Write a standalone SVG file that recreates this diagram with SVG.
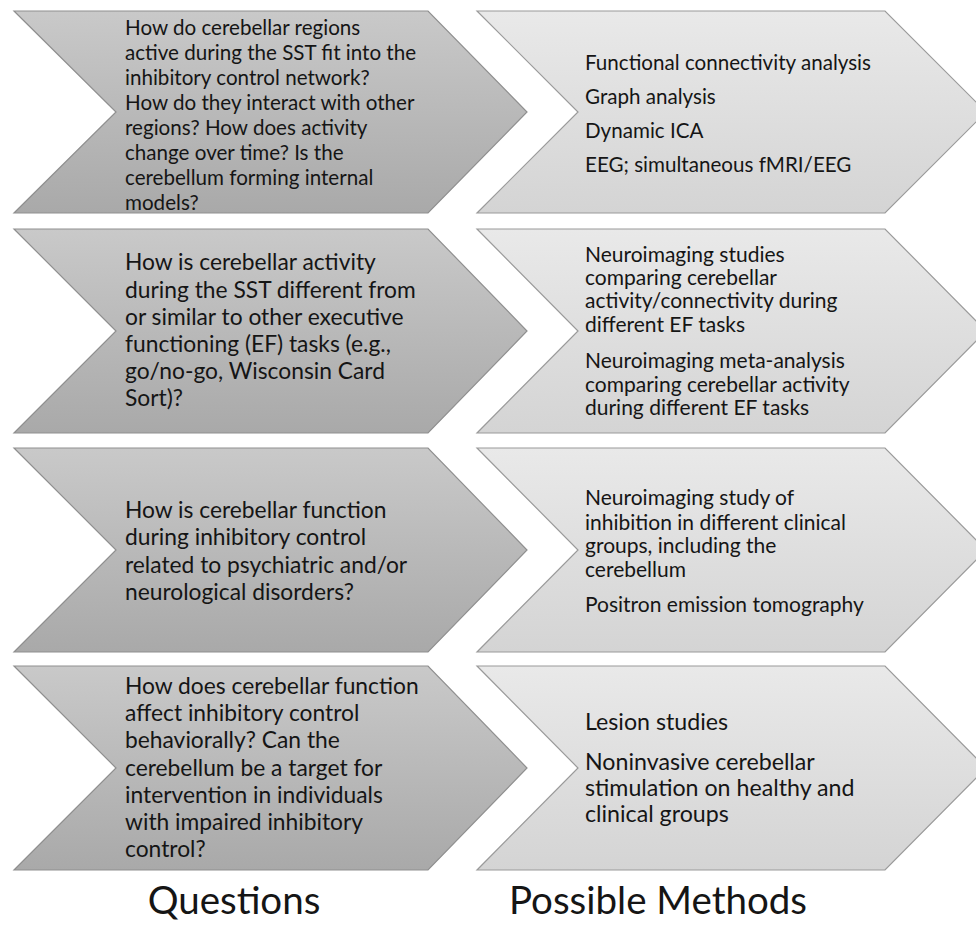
<svg xmlns="http://www.w3.org/2000/svg" width="976" height="942" viewBox="0 0 976 942">
<defs>
<linearGradient id="gDark" x1="0" y1="0" x2="0" y2="1">
<stop offset="0" stop-color="#c9c9c9"/>
<stop offset="1" stop-color="#a9a9a9"/>
</linearGradient>
<linearGradient id="gLight" x1="0" y1="0" x2="0" y2="1">
<stop offset="0" stop-color="#e9e9e9"/>
<stop offset="1" stop-color="#d4d4d4"/>
</linearGradient>
<style>
.q{fill:url(#gDark);stroke:#8f8f8f;stroke-width:1.2}
.m{fill:url(#gLight);stroke:#9a9a9a;stroke-width:1.2}
text{font-family:Lato,"Open Sans",sans-serif;fill:#151515}
.t1{font-size:20.6px}
.t2{font-size:22.8px}
.t3{font-size:21px}
.t4{font-size:23.2px}
.lab{font-size:38.5px;font-family:Lato,"Open Sans",sans-serif;fill:#151515;text-anchor:middle}
</style>
</defs>
<rect width="976" height="942" fill="#ffffff"/>
<g id="q1">
<path class="q" d="M14,11 L428,11 L527,112 L428,213 L14,213 L116,112 Z"/>
<text class="t1"><tspan x="125" y="35">How do cerebellar regions</tspan><tspan x="125" y="60">active during the SST fit into the</tspan><tspan x="125" y="85">inhibitory control network?</tspan><tspan x="125" y="110">How do they interact with other</tspan><tspan x="125" y="135">regions? How does activity</tspan><tspan x="125" y="160">change over time? Is the</tspan><tspan x="125" y="185">cerebellum forming internal</tspan><tspan x="125" y="210">models?</tspan></text>
</g>
<g id="m1">
<path class="m" d="M477,11 L885,11 L986,112 L885,213 L477,213 L578,112 Z"/>
<text class="t1"><tspan x="585" y="70">Functional connectivity analysis</tspan><tspan x="585" y="104">Graph analysis</tspan><tspan x="585" y="138">Dynamic ICA</tspan><tspan x="585" y="172">EEG; simultaneous fMRI/EEG</tspan></text>
</g>
<g id="q2">
<path class="q" d="M14,229 L428,229 L527,331 L428,433 L14,433 L116,331 Z"/>
<text class="t2"><tspan x="125" y="270">How is cerebellar activity</tspan><tspan x="125" y="297.5">during the SST different from</tspan><tspan x="125" y="325">or similar to other executive</tspan><tspan x="125" y="352">functioning (EF) tasks (e.g.,</tspan><tspan x="125" y="379">go/no-go, Wisconsin Card</tspan><tspan x="125" y="406">Sort)?</tspan></text>
</g>
<g id="m2">
<path class="m" d="M477,229 L885,229 L986,331 L885,433 L477,433 L578,331 Z"/>
<text class="t3"><tspan x="585" y="262">Neuroimaging studies</tspan><tspan x="585" y="285">comparing cerebellar</tspan><tspan x="585" y="308">activity/connectivity during</tspan><tspan x="585" y="332">different EF tasks</tspan><tspan x="585" y="368">Neuroimaging meta-analysis</tspan><tspan x="585" y="392">comparing cerebellar activity</tspan><tspan x="585" y="415">during different EF tasks</tspan></text>
</g>
<g id="q3">
<path class="q" d="M14,448 L428,448 L527,550 L428,652 L14,652 L116,550 Z"/>
<text class="t2"><tspan x="125" y="518">How is cerebellar function</tspan><tspan x="125" y="545">during inhibitory control</tspan><tspan x="125" y="573">related to psychiatric and/or</tspan><tspan x="125" y="600">neurological disorders?</tspan></text>
</g>
<g id="m3">
<path class="m" d="M477,448 L885,448 L986,550 L885,652 L477,652 L578,550 Z"/>
<text class="t3"><tspan x="585" y="505">Neuroimaging study of</tspan><tspan x="585" y="530">inhibition in different clinical</tspan><tspan x="585" y="553">groups, including the</tspan><tspan x="585" y="577">cerebellum</tspan><tspan x="585" y="612">Positron emission tomography</tspan></text>
</g>
<g id="q4">
<path class="q" d="M14,666 L428,666 L527,768 L428,870 L14,870 L116,768 Z"/>
<text class="t2"><tspan x="125" y="694">How does cerebellar function</tspan><tspan x="125" y="721">affect inhibitory control</tspan><tspan x="125" y="748">behaviorally? Can the</tspan><tspan x="125" y="776">cerebellum be a target for</tspan><tspan x="125" y="803">intervention in individuals</tspan><tspan x="125" y="830">with impaired inhibitory</tspan><tspan x="125" y="857">control?</tspan></text>
</g>
<g id="m4">
<path class="m" d="M477,666 L885,666 L986,768 L885,870 L477,870 L578,768 Z"/>
<text class="t4"><tspan x="585" y="730">Lesion studies</tspan><tspan x="585" y="770">Noninvasive cerebellar</tspan><tspan x="585" y="796">stimulation on healthy and</tspan><tspan x="585" y="822">clinical groups</tspan></text>
</g>
<g id="connectors"></g>
<g id="labels">
<text class="lab" x="234" y="914">Questions</text>
<text class="lab" x="658" y="914">Possible Methods</text>
</g>
</svg>
